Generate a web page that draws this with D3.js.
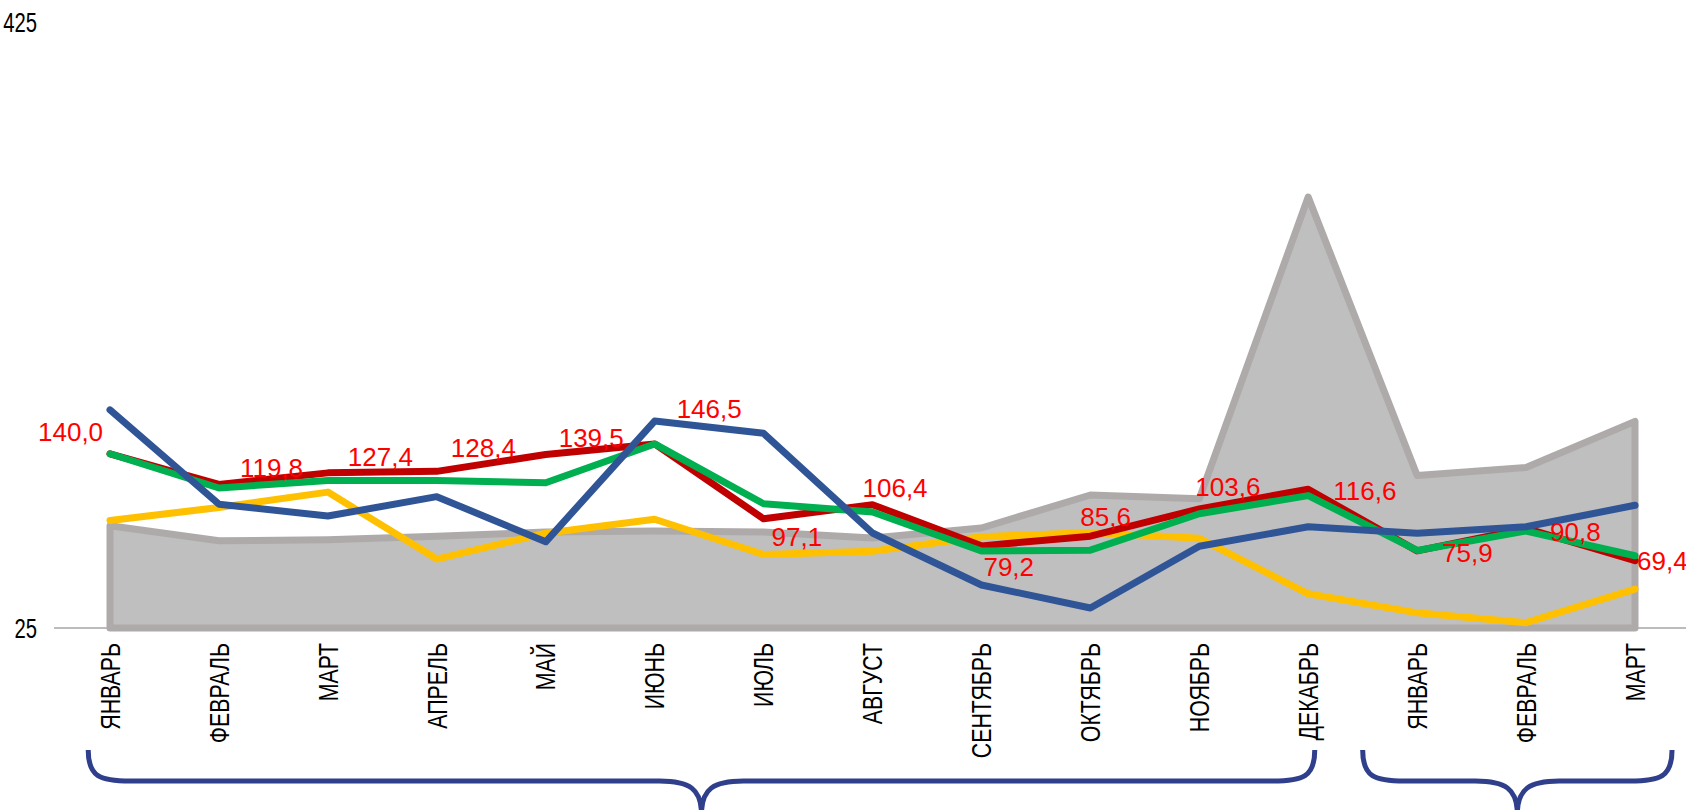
<!DOCTYPE html>
<html>
<head>
<meta charset="utf-8">
<script src="https://cdn.jsdelivr.net/npm/d3@7"></script>
<style>
  html, body { margin: 0; padding: 0; background: #ffffff; }
  svg { display: block; }
  .month-label { font-family: "Liberation Sans", Arial, sans-serif; font-size: 27px; fill: #000000; }
  .y-label { font-family: "Liberation Sans", Arial, sans-serif; font-size: 27px; fill: #000000; }
  .value-label { font-family: "Liberation Sans", Arial, sans-serif; font-size: 26px; fill: #ff0000; }
</style>
</head>
<body>
<div id="chart"></div>
<script>
const months = ["ЯНВАРЬ", "ФЕВРАЛЬ", "МАРТ", "АПРЕЛЬ", "МАЙ", "ИЮНЬ", "ИЮЛЬ", "АВГУСТ",
  "СЕНТЯБРЬ", "ОКТЯБРЬ", "НОЯБРЬ", "ДЕКАБРЬ", "ЯНВАРЬ", "ФЕВРАЛЬ", "МАРТ"]

const yTicks = [25, 425]

// grey background area
const areaValues = [92.5, 82.6, 83.3, 85.5, 88.3, 89.0, 88.3, 84.4, 91.0, 112.8, 110.3, 309.5, 125.6, 131.0, 161.4]
// labelled series
const redValues = [140.0, 119.8, 127.4, 128.4, 139.5, 146.5, 97.1, 106.4, 79.2, 85.6, 103.6, 116.6, 75.9, 90.8, 69.4]
const greenValues = [140.0, 117.4, 122.4, 122.4, 120.9, 146.5, 107.0, 101.6, 75.8, 76.4, 100.4, 112.4, 76.2, 89.0, 72.7]
const blueValues = [169.0, 106.7, 98.9, 111.7, 81.9, 161.6, 153.5, 87.7, 53.4, 38.2, 79.0, 91.8, 87.6, 91.8, 106.0]
const yellowValues = [96.0, 104.6, 114.7, 70.5, 87.6, 96.8, 73.5, 75.6, 85.2, 88.0, 84.2, 47.6, 35.0, 28.5, 50.7]

// brace groups, by category index (fractional ends)
const braceGroups = [[-0.2, 11.06], [11.5, 14.34]]

// manual nudges of the red value labels (px, from the point)
const labelNudge = [[-72, -22], [21, -17], [20, -16], [14, -24], [13, -17], [22, -35], [8, 18], [-10, -17],
  [2, 21], [-10, -20], [-4, -22], [25, 1], [25, 2], [24, 3], [2, 0]]

const config = {
  width: 1686,
  height: 810,
  plotLeft: 110,
  plotRight: 1635,
  plotTop: 22,
  plotBottom: 628,
  // the axis texts are a condensed face, squeezed along the baseline
  narrow: 0.79
}

const fmt = v => d3.format(".1f")(v).replace(".", ",")

function drawChart () {
  const svg = d3.select("#chart").append("svg")
    .attr("width", config.width)
    .attr("height", config.height)

  const x = d3.scalePoint()
    .domain(d3.range(months.length))
    .range([config.plotLeft, config.plotRight])

  const xi = i => config.plotLeft + i * x.step()

  const y = d3.scaleLinear()
    .domain([25, 425])
    .range([config.plotBottom, config.plotTop])

  // baseline
  svg.append("line")
    .attr("x1", 54)
    .attr("x2", config.width)
    .attr("y1", y(25))
    .attr("y2", y(25))
    .attr("stroke", "#a6a6a6")
    .attr("stroke-width", 1.5)

  // y labels
  svg.selectAll(".y-label")
    .data(yTicks)
    .enter().append("text")
    .attr("class", "y-label")
    .attr("transform", d => `translate(37,${y(d)}) scale(${config.narrow * 0.95},1)`)
    .attr("dy", "0.36em")
    .attr("text-anchor", "end")
    .text(d => d)

  // grey area
  const area = d3.area()
    .x((d, i) => x(i))
    .y0(y(25))
    .y1(d => y(d))

  svg.append("path")
    .datum(areaValues)
    .attr("d", d => area(d) + "Z")
    .attr("fill", "#bfbfbf")
    .attr("stroke", "#aeaaaa")
    .attr("stroke-width", 7)
    .attr("stroke-linejoin", "round")

  const line = d3.line()
    .x((d, i) => x(i))
    .y(d => y(d))

  const series = [
    {values: yellowValues, color: "#ffc000"},
    {values: redValues, color: "#c00000"},
    {values: greenValues, color: "#00b050"},
    {values: blueValues, color: "#2f5597"}
  ]

  svg.selectAll(".series")
    .data(series)
    .enter().append("path")
    .attr("class", "series")
    .attr("d", d => line(d.values))
    .attr("fill", "none")
    .attr("stroke", d => d.color)
    .attr("stroke-width", 7)
    .attr("stroke-linejoin", "round")
    .attr("stroke-linecap", "round")

  // value labels of the red series
  svg.selectAll(".value-label")
    .data(redValues)
    .enter().append("text")
    .attr("class", "value-label")
    .attr("x", (d, i) => x(i) + labelNudge[i][0])
    .attr("y", (d, i) => y(d) + labelNudge[i][1])
    .attr("dy", "0.36em")
    .text(d => fmt(d))

  // month labels, rotated
  svg.selectAll(".month-label")
    .data(months)
    .enter().append("text")
    .attr("class", "month-label")
    .attr("transform", (d, i) => `translate(${x(i)},643) rotate(-90) scale(${config.narrow},1)`)
    .attr("dy", "0.36em")
    .attr("text-anchor", "end")
    .text(d => d)

  // braces
  const top = 750
  const mid = 781
  const tip = 814
  svg.selectAll(".brace")
    .data(braceGroups)
    .enter().append("path")
    .attr("class", "brace")
    .attr("d", d => {
      const x0 = xi(d[0])
      const x1 = xi(d[1])
      const xc = (x0 + x1) / 2
      const p = d3.path()
      p.moveTo(x0, top)
      p.bezierCurveTo(x0, mid - 4, x0 + 12, mid, x0 + 42, mid)
      p.lineTo(xc - 42, mid)
      p.bezierCurveTo(xc - 12, mid, xc, mid + 8, xc, tip)
      p.moveTo(x1, top)
      p.bezierCurveTo(x1, mid - 4, x1 - 12, mid, x1 - 42, mid)
      p.lineTo(xc + 42, mid)
      p.bezierCurveTo(xc + 12, mid, xc, mid + 8, xc, tip)
      return p.toString()
    })
    .attr("fill", "none")
    .attr("stroke", "#2f3f8c")
    .attr("stroke-width", 5)
}

drawChart()
</script>
</body>
</html>
